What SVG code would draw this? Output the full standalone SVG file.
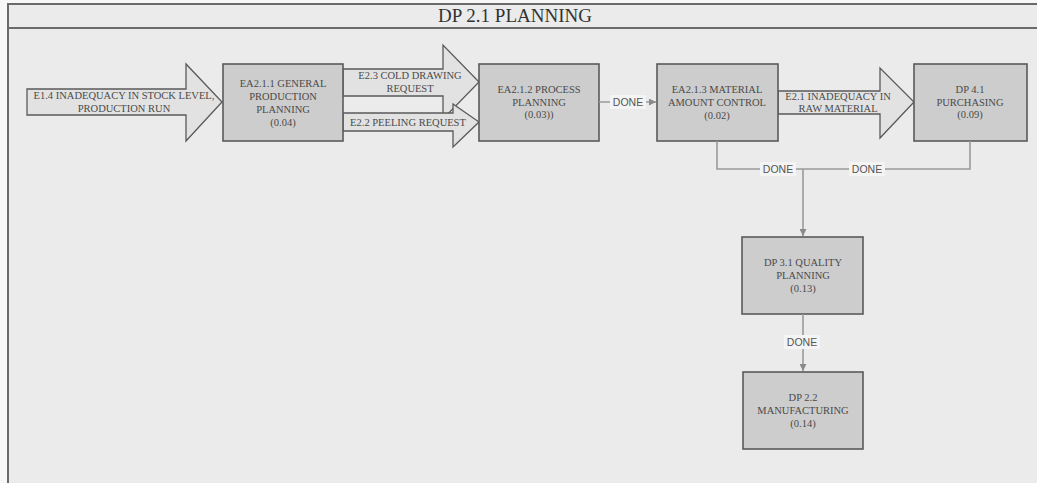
<svg xmlns="http://www.w3.org/2000/svg" width="1037" height="483" viewBox="0 0 1037 483">
  <style>
    .frame { fill: #ebebeb; }
    .band { stroke: #6a6a6a; stroke-width: 2; fill: none; }
    .title { font-family: "Liberation Serif", "Times New Roman", serif; font-size: 19px; fill: #333; text-anchor: middle; }
    .box { fill: #cdcdcd; stroke: #5a5a5a; stroke-width: 1.6; }
    .flow { fill: #e2e2e2; stroke: #5a5a5a; stroke-width: 1.3; }
    .t { font-family: "Liberation Serif", "Times New Roman", serif; font-size: 10.5px; fill: #4a4a4a; text-anchor: middle; }
    .link { fill: none; stroke: #9a9a9a; stroke-width: 1.6; }
    .lbl-bg { fill: #f4f4f4; }
    .lbl { font-family: "Liberation Sans", Arial, sans-serif; font-size: 10.5px; fill: #555; text-anchor: middle; }
  </style>
  <defs>
    <marker id="arrow" viewBox="0 0 10 10" refX="10" refY="5" markerWidth="7" markerHeight="7" markerUnits="userSpaceOnUse" orient="auto">
      <path d="M0,0 L10,5 L0,10 z" fill="#8a8a8a"/>
    </marker>
  </defs>

  <!-- canvas and frame -->
  <rect x="0" y="0" width="1037" height="483" fill="#f7f7f7"/>
  <rect class="frame" x="7" y="4" width="1030" height="479"/>
  <line class="band" x1="7" y1="4" x2="1037" y2="4"/>
  <line class="band" x1="7" y1="28" x2="1037" y2="28"/>
  <line class="band" x1="8" y1="4" x2="8" y2="483"/>
  <text class="title" x="515" y="22">DP 2.1 PLANNING</text>

  <!-- input / output flow arrows -->
  <g id="flow-e14">
    <path class="flow" d="M27,89 H186 V64 L222,102 L186,141 V115 H27 Z"/>
    <text class="t" x="124" y="99">E1.4 INADEQUACY IN STOCK LEVEL,</text>
    <text class="t" x="124" y="112">PRODUCTION RUN</text>
  </g>
  <g id="flow-e23">
    <path class="flow" d="M343,69 H443 V45 L479,82 L443,119 V96 H343 Z"/>
    <text class="t" x="410" y="79">E2.3 COLD DRAWING</text>
    <text class="t" x="410" y="92">REQUEST</text>
  </g>
  <g id="flow-e22">
    <path class="flow" d="M343,113 H453 V104 L479,122 L453,147 V131 H343 Z"/>
    <text class="t" x="408" y="126">E2.2 PEELING REQUEST</text>
  </g>
  <g id="flow-e21">
    <path class="flow" d="M778,91 H880 V68 L914,102 L880,138 V114 H778 Z"/>
    <text class="t" x="838" y="100">E2.1 INADEQUACY IN</text>
    <text class="t" x="838" y="112">RAW MATERIAL</text>
  </g>

  <!-- activity boxes -->
  <g id="ea211">
    <rect class="box" x="223" y="64" width="120" height="77"/>
    <text class="t" x="283" y="87">EA2.1.1 GENERAL</text>
    <text class="t" x="283" y="100">PRODUCTION</text>
    <text class="t" x="283" y="113">PLANNING</text>
    <text class="t" x="283" y="126">(0.04)</text>
  </g>
  <g id="ea212">
    <rect class="box" x="479" y="64" width="120" height="77"/>
    <text class="t" x="539" y="93">EA2.1.2 PROCESS</text>
    <text class="t" x="539" y="106">PLANNING</text>
    <text class="t" x="539" y="118">(0.03))</text>
  </g>
  <g id="ea213">
    <rect class="box" x="657" y="64" width="121" height="77"/>
    <text class="t" x="717" y="93">EA2.1.3 MATERIAL</text>
    <text class="t" x="717" y="106">AMOUNT CONTROL</text>
    <text class="t" x="717" y="119">(0.02)</text>
  </g>
  <g id="dp41">
    <rect class="box" x="914" y="64" width="113" height="77"/>
    <text class="t" x="970" y="93">DP 4.1</text>
    <text class="t" x="970" y="106">PURCHASING</text>
    <text class="t" x="970" y="118">(0.09)</text>
  </g>
  <g id="dp31">
    <rect class="box" x="742" y="237" width="121" height="77"/>
    <text class="t" x="803" y="266">DP 3.1 QUALITY</text>
    <text class="t" x="803" y="279">PLANNING</text>
    <text class="t" x="803" y="292">(0.13)</text>
  </g>
  <g id="dp22">
    <rect class="box" x="743" y="372" width="120" height="77"/>
    <text class="t" x="803" y="401">DP 2.2</text>
    <text class="t" x="803" y="414">MANUFACTURING</text>
    <text class="t" x="803" y="427">(0.14)</text>
  </g>

  <!-- precedence connectors -->
  <g id="connectors">
    <path class="link" d="M599,102 H656" marker-end="url(#arrow)"/>
    <path class="link" d="M717,141 V169 H803"/>
    <path class="link" d="M970,141 V169 H803"/>
    <path class="link" d="M803,169 V236" marker-end="url(#arrow)"/>
    <path class="link" d="M803,314 V371" marker-end="url(#arrow)"/>

    <rect class="lbl-bg" x="610" y="95" width="36" height="14"/>
    <text class="lbl" x="628" y="106">DONE</text>
    <rect class="lbl-bg" x="760" y="162" width="36" height="14"/>
    <text class="lbl" x="778" y="173">DONE</text>
    <rect class="lbl-bg" x="849" y="162" width="36" height="14"/>
    <text class="lbl" x="867" y="173">DONE</text>
    <rect class="lbl-bg" x="784" y="335" width="36" height="14"/>
    <text class="lbl" x="802" y="346">DONE</text>
  </g>
</svg>
